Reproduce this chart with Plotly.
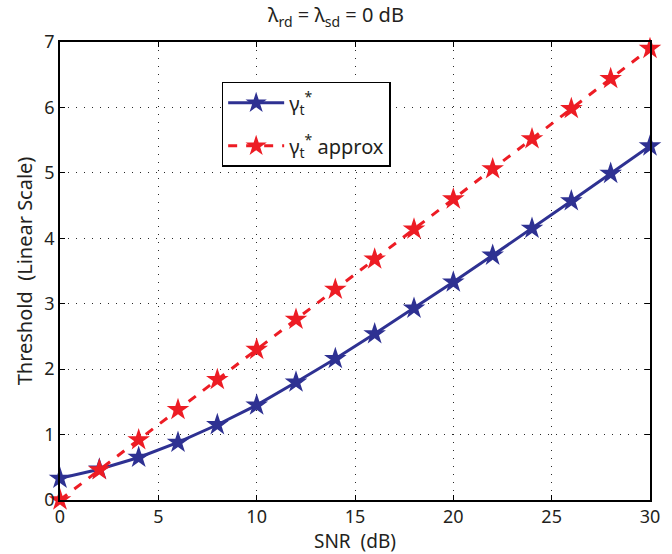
import plotly.graph_objects as go

# Data
snr_db = [0, 2, 4, 6, 8, 10, 12, 14, 16, 18, 20, 22, 24, 26, 28, 30]
gamma_t = [0.33, 0.47, 0.65, 0.88, 1.15, 1.45, 1.80, 2.16, 2.54, 2.93,
           3.33, 3.74, 4.15, 4.57, 4.99, 5.41]
gamma_t_approx = [0.0, 0.46, 0.92, 1.38, 1.84, 2.30, 2.76, 3.22, 3.68, 4.14,
                  4.60, 5.06, 5.52, 5.98, 6.44, 6.90]

x_ticks = [0, 5, 10, 15, 20, 25, 30]
y_ticks = [0, 1, 2, 3, 4, 5, 6, 7]

blue = 'rgb(46,49,146)'
red = 'rgb(237,28,36)'
font_family = 'Noto Sans'
txt = '#231f20'
nbsp = '\u00a0'

fig = go.Figure()

fig.add_trace(go.Scatter(
    x=snr_db, y=gamma_t,
    mode='lines+markers',
    name='γ<sub>t</sub><sup>*</sup>',
    legendgroup='a',
    line=dict(color=blue, width=3),
    marker=dict(symbol='star', size=17, color=blue),
    cliponaxis=False
))

fig.add_trace(go.Scatter(
    x=snr_db, y=gamma_t_approx,
    mode='lines+markers',
    name='γ<sub>t</sub><sup>*</sup> approx',
    legendgroup='b',
    line=dict(color=red, width=3, dash='dash'),
    marker=dict(symbol='star', size=17, color=red),
    cliponaxis=False
))

axis_common = dict(
    showline=True, linecolor='black', linewidth=1.5, mirror='allticks',
    ticks='inside', ticklen=5, tickcolor='black',
    showgrid=True, gridcolor='rgb(40,40,40)', griddash='1px,7px', gridwidth=1,
    zeroline=False,
    tickfont=dict(size=18, color=txt, family=font_family),
)

fig.update_xaxes(
    range=[0, 30], tickvals=x_ticks,
    title=dict(text='SNR' + nbsp * 2 + '(dB)', font=dict(size=19, color=txt, family=font_family), standoff=0),
    **axis_common
)
fig.update_yaxes(
    range=[0, 7], tickvals=y_ticks,
    title=dict(text='Threshold' + nbsp * 2 + '(Linear Scale)', font=dict(size=20, color=txt, family=font_family), standoff=6),
    **axis_common
)

fig.update_layout(
    width=672, height=554,
    margin=dict(l=60, r=21, t=42, b=48),
    paper_bgcolor='white', plot_bgcolor='white',
    font=dict(family=font_family, color=txt),
    title=dict(
        text='λ<sub>rd</sub> = λ<sub>sd</sub> = 0 dB',
        x=0.5, xanchor='center', y=0.985, yanchor='top',
        font=dict(size=20, family=font_family, color=txt)
    ),
    legend=dict(
        x=0.274, y=0.913, xanchor='left', yanchor='top',
        bgcolor='white', bordercolor='black', borderwidth=1.5,
        font=dict(size=20, family=font_family, color=txt),
        itemwidth=56, tracegroupgap=14,
    ),
    showlegend=True,
)

fig.write_html("out.html", config={'displayModeBar': False},
               post_script="document.body.style.margin='0';")
